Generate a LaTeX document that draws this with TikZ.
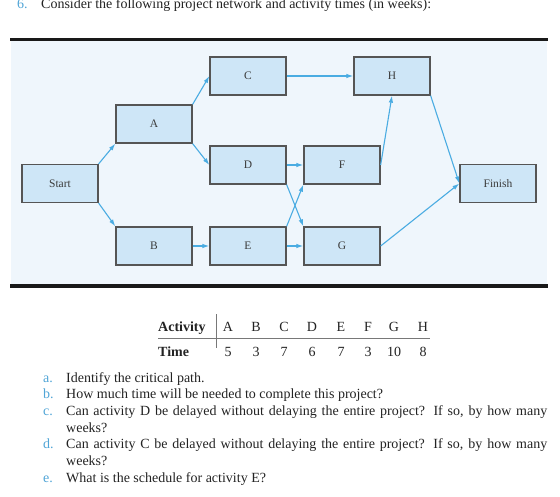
\documentclass[tikz,border=0pt]{standalone}
\usepackage{fontspec}
\setmainfont{Liberation Serif}
\usetikzlibrary{arrows.meta}
\definecolor{arrowblue}{RGB}{74,172,226}
\definecolor{boxfill}{RGB}{206,230,247}
\definecolor{panelbg}{RGB}{239,246,252}
\definecolor{labelblue}{RGB}{80,165,215}
\definecolor{boxline}{RGB}{85,85,85}
\definecolor{boxtext}{RGB}{60,60,60}
\definecolor{bodytext}{RGB}{35,35,35}
\definecolor{rulegray}{RGB}{120,120,120}
\begin{document}
\begin{tikzpicture}[x=1pt,y=-1pt,
  actbox/.style={draw=boxline, line width=1.3pt, fill=boxfill, minimum width=76pt, minimum height=38pt, inner sep=0pt, font=\fontsize{11.5}{13}\selectfont, text=boxtext},
  conn/.style={draw=arrowblue, line width=1.1pt, -{Latex[length=7pt,width=4.5pt]}},
  txt/.style={anchor=base west, inner sep=0pt, font=\fontsize{14}{16.7}\selectfont, text=bodytext},
  lbl/.style={anchor=base west, inner sep=0pt, font=\fontsize{14}{16.7}\selectfont, text=labelblue},
  cell/.style={anchor=base, inner sep=0pt, font=\fontsize{14}{16.7}\selectfont, text=bodytext},
  headcell/.style={anchor=base west, inner sep=0pt, font=\fontsize{14}{16.7}\selectfont\bfseries, text=bodytext}]

\useasboundingbox (0,0) rectangle (560,496);
\fill[white] (0,0) rectangle (560,496);

% title
\node[lbl] (qnum) at (17,8.3) {6.};
\node[txt] (qtitle) at (41,8.3) {Consider the following project network and activity times (in weeks):};

% panel
\fill[panelbg] (11,41) rectangle (547,284);
\draw[line width=3pt, black!90] (10,39.7) -- (548,39.7);
\draw[line width=3.6pt, black!90] (10,286.2) -- (548,286.2);

% boxes
\node[actbox] (start) at (60,183.5) {Start};
\node[actbox] (A) at (154,124) {A};
\node[actbox] (C) at (248,76) {C};
\node[actbox] (D) at (248,165) {D};
\node[actbox] (B) at (154,246) {B};
\node[actbox] (E) at (248,246) {E};
\node[actbox] (H) at (392,76) {H};
\node[actbox] (F) at (342,165) {F};
\node[actbox] (G) at (342,246) {G};
\node[actbox] (finish) at (498,183.5) {Finish};

% connectors
\draw[conn] (start.north east) -- (A.south west);
\draw[conn] (start.south east) -- (B.north west);
\draw[conn] (A.north east) -- (C.west);
\draw[conn] (A.south east) -- (D.west);
\draw[conn] (B.east) -- (E.west);
\draw[conn] (C.east) -- (H.west);
\draw[conn] (D.east) -- (F.west);
\draw[conn] (D.south east) -- (G.north west);
\draw[conn] (E.north east) -- (F.south west);
\draw[conn] (E.east) -- (G.west);
\draw[conn] (F.east) -- (H.south);
\draw[conn] (H.south east) -- (finish.west);
\draw[conn] (G.east) -- (finish.west);

% table
\node[headcell] (acthead) at (158,331) {Activity};
\node[headcell] (timehead) at (158,356.7) {Time};
\draw[rulegray, line width=0.9pt] (158,338.3) -- (430,338.3);
\draw[rulegray, line width=0.9pt] (216,314) -- (216,348);
\node[cell] (ta) at (228,331) {A};
\node[cell] (tb) at (256,331) {B};
\node[cell] (tc) at (284,331) {C};
\node[cell] (td) at (312,331) {D};
\node[cell] (te) at (341,331) {E};
\node[cell] (tf) at (368,331) {F};
\node[cell] (tg) at (394,331) {G};
\node[cell] (th) at (423,331) {H};
\node[cell] (va) at (228,356.7) {5};
\node[cell] (vb) at (256,356.7) {3};
\node[cell] (vc) at (284,356.7) {7};
\node[cell] (vd) at (312,356.7) {6};
\node[cell] (ve) at (341,356.7) {7};
\node[cell] (vf) at (368,356.7) {3};
\node[cell] (vg) at (394,356.7) {10};
\node[cell] (vh) at (423,356.7) {8};

% questions
\node[lbl] (la) at (43,382) {a.};
\node[txt] (qa) at (66,382) {Identify the critical path.};
\node[lbl] (lb) at (43,398.7) {b.};
\node[txt] (qb) at (66,398.7) {How much time will be needed to complete this project?};
\node[lbl] (lc) at (43,415.4) {c.};
\node[txt] (qc) at (66,415.4) {\makebox[481pt][s]{Can activity D be delayed without delaying the entire project? If so, by how many}};
\node[txt] (qc2) at (66,432.1) {weeks?};
\node[lbl] (ld) at (43,448.8) {d.};
\node[txt] (qd) at (66,448.8) {\makebox[481pt][s]{Can activity C be delayed without delaying the entire project? If so, by how many}};
\node[txt] (qd2) at (66,465.5) {weeks?};
\node[lbl] (le) at (43,482.2) {e.};
\node[txt] (qe) at (66,482.2) {What is the schedule for activity E?};
\end{tikzpicture}
\end{document}
